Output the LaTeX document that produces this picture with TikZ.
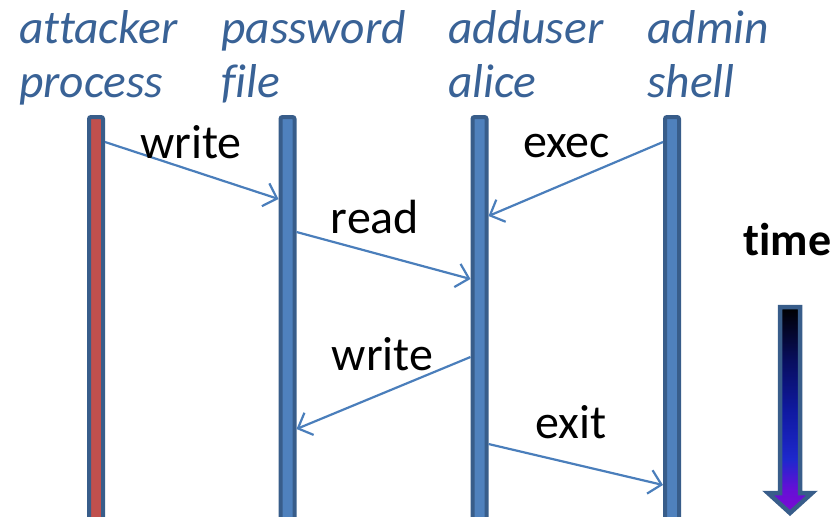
\documentclass[tikz,border=0pt]{standalone}
\usepackage{fontspec}
\setmainfont{Carlito}[Ligatures=NoCommon]
\usetikzlibrary{arrows.meta}
\definecolor{hdrc}{RGB}{57,98,150}
\definecolor{barborder}{RGB}{56,93,138}
\definecolor{barfill}{RGB}{79,129,189}
\definecolor{attfill}{RGB}{192,80,77}
\definecolor{msgc}{RGB}{74,126,187}
\definecolor{tdark}{RGB}{8,14,95}
\definecolor{tmid}{RGB}{15,25,160}
\definecolor{tblue}{RGB}{30,40,205}
\definecolor{tpur}{RGB}{100,15,215}
\definecolor{tbot}{RGB}{125,10,210}
\pgfdeclareverticalshading{timeshade}{100bp}{color(0bp)=(tbot); color(25bp)=(tbot); color(31bp)=(tpur); color(38bp)=(tblue); color(50bp)=(tmid); color(62bp)=(tdark); color(75bp)=(black); color(100bp)=(black)}
\begin{document}
\begin{tikzpicture}[x=1pt,y=-1pt,
  hdr/.style={anchor=base west, inner sep=0pt, text=hdrc, font=\fontsize{47.5}{56}\selectfont\itshape},
  lbl/.style={anchor=base, inner sep=0pt, font=\fontsize{48}{56}\selectfont},
  lifeline/.style={draw=barborder, fill=barfill, line width=4pt, rounded corners=2pt, minimum width=14pt, minimum height=420pt, inner sep=0pt, anchor=north},
  msg/.style={draw=msgc, line width=2.2pt, -{Straight Barb[length=12pt,width=24pt,line width=2.2pt]}}
]
\useasboundingbox (0,0) rectangle (836,517);

% headers
\node[hdr] (h1a) at (19,43) {attacker};
\node[hdr] (h1b) at (19,97) {process};
\node[hdr] (h2a) at (221,43) {password};
\node[hdr] (h2b) at (221,97) {file};
\node[hdr] (h3a) at (448,43) {adduser};
\node[hdr] (h3b) at (448,97) {alice};
\node[hdr] (h4a) at (647,43) {admin};
\node[hdr] (h4b) at (647,97) {shell};

% lifelines
\node[lifeline, fill=attfill] (att) at (96,115) {};
\node[lifeline] (pw) at (287.5,115) {};
\node[lifeline] (add) at (479.5,115) {};
\node[lifeline] (adm) at (672,115) {};

% messages
\draw[msg] (att.east |- 0,142) -- (pw.west |- 0,199);
\draw[msg] (adm.west |- 0,142) -- (add.east |- 0,216);
\draw[msg] (pw.east |- 0,232) -- (add.west |- 0,279);
\draw[msg] (add.west |- 0,357) -- (pw.east |- 0,429);
\draw[msg] (add.east |- 0,444) -- (adm.west |- 0,485);

\node[lbl] (l1) at (191,158) {write};
\node[lbl] (l2) at (566.5,157) {exec};
\node[lbl] (l3) at (375,233) {read};
\node[lbl] (l4) at (382.5,370) {write};
\node[lbl] (l5) at (571,438) {exit};

% time
\node[lbl, font=\fontsize{46}{53}\selectfont\bfseries] (tm) at (787.5,255) {time};
\shade[shading=timeshade]
  (780,307) -- (800,307) -- (800,493) -- (812,493) -- (790,513) -- (768,493) -- (780,493) -- cycle;
\draw[barborder, line width=4.5pt, line join=miter]
  (780,307) -- (800,307) -- (800,493) -- (812,493) -- (790,513) -- (768,493) -- (780,493) -- cycle;
\end{tikzpicture}
\end{document}
